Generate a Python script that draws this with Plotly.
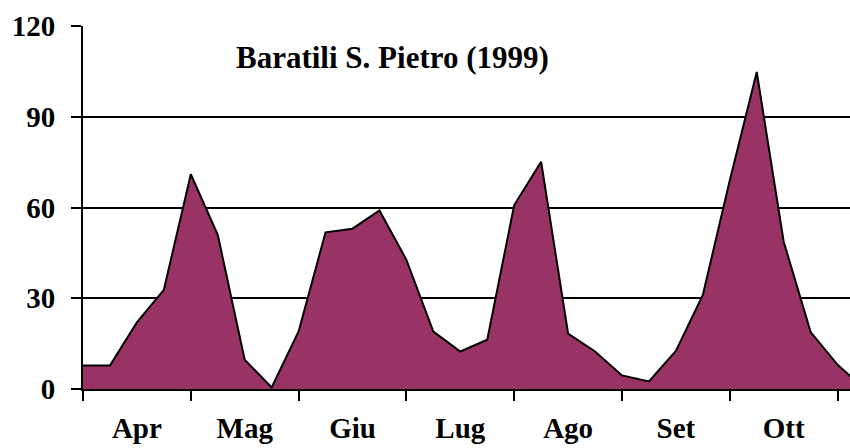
import plotly.graph_objects as go

values = [7.8, 7.8, 22, 32.8, 71, 51, 9.7, 0.5,
          19, 51.8, 53, 59, 42.7, 19, 12.4, 16.3,
          60.8, 75.1, 18.3, 12.4, 4.5, 2.5, 12.6, 31.1,
          69, 104.8, 48.7, 18.8, 8, 0]
months = ["Apr", "Mag", "Giu", "Lug", "Ago", "Set", "Ott"]
month_centres = [2, 6, 10, 14, 18, 22, 26]
y_ticks = [0, 30, 60, 90, 120]
title_text = "Baratili S. Pietro (1999)"

x = list(range(len(values)))
font = dict(family="Liberation Serif", size=29, color="black", weight="bold")

fig = go.Figure(go.Scatter(
    x=x, y=values, mode="lines", fill="tozeroy",
    fillcolor="#993366", line=dict(color="black", width=2),
    hoverinfo="skip",
))

fig.add_annotation(x=11.5, y=109.5, xref="x", yref="y", text=title_text,
                   showarrow=False, font=dict(family="Liberation Serif", size=31,
                                              color="black", weight="bold"))

fig.update_layout(
    width=850, height=448,
    margin=dict(l=83, r=0, t=26, b=59),
    paper_bgcolor="white", plot_bgcolor="white",
    showlegend=False,
    font=font,
)
fig.update_xaxes(
    range=[0, 28.46], tickvals=month_centres, ticktext=months,
    ticks="outside", ticklen=10, tickcolor="rgba(0,0,0,0)",
    tickfont=font, showgrid=False, zeroline=False, automargin=False,
    showline=True, linecolor="black", linewidth=2,
    minor=dict(tick0=0, dtick=4, ticks="outside", ticklen=10,
               tickcolor="black", tickwidth=2, showgrid=False),
    ticklabelstandoff=2,
)
fig.update_yaxes(
    range=[0, 120], tickvals=y_ticks,
    ticks="outside", ticklen=10, tickcolor="black", tickwidth=2,
    tickfont=font, showgrid=True, gridcolor="black", gridwidth=1.5,
    zeroline=False, showline=True, linecolor="black", linewidth=2,
    ticklabelstandoff=10, automargin=False,
)

# remove the browser's default 8px body margin so the figure fills the window
fig.write_html(
    "out.html",
    config={"displayModeBar": False},
    post_script="document.body.style.margin='0';document.body.style.overflow='hidden';",
)
